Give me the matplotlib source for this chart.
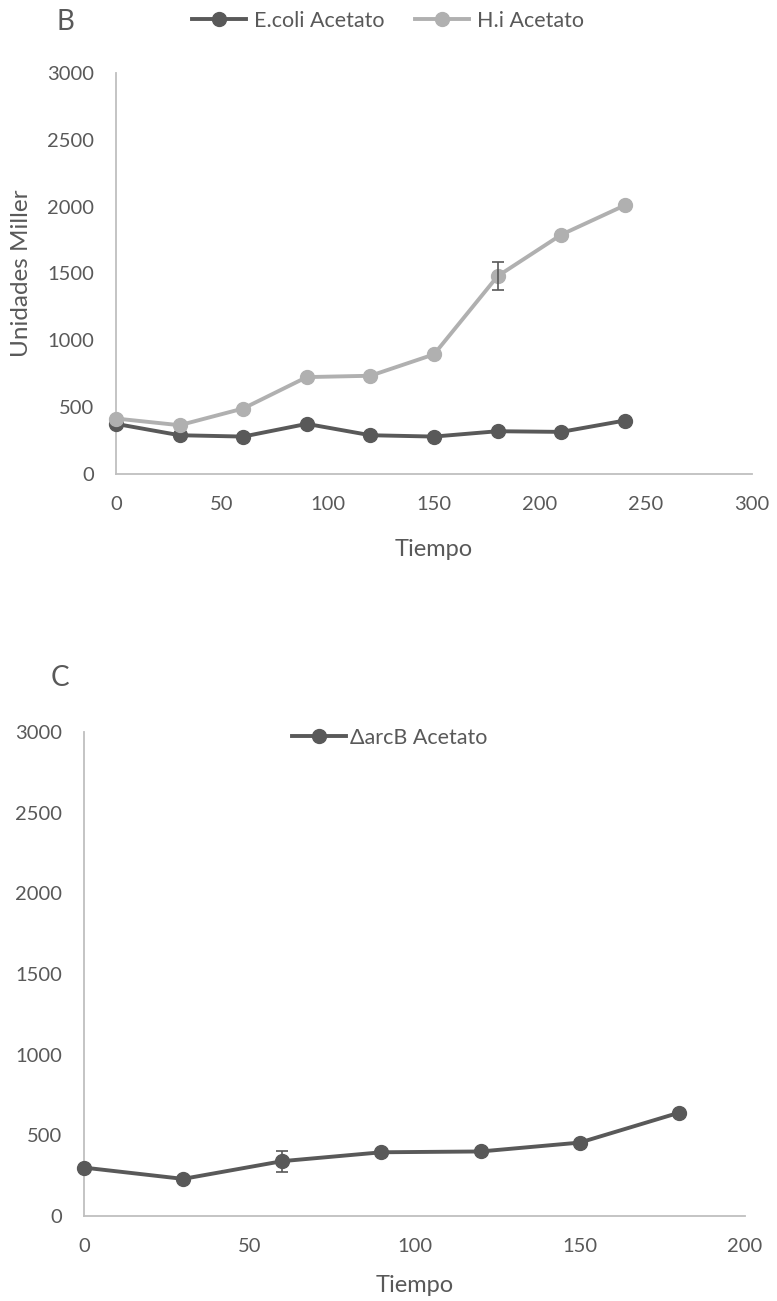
import numpy as np
import matplotlib
matplotlib.use("Agg")
import matplotlib.pyplot as plt

# panel B
tiempo_b = [0, 30, 60, 90, 120, 150, 180, 210, 240]
ecoli_acetato = [375, 290, 280, 375, 290, 280, 320, 315, 400]
ecoli_err = [0, 0, 0, 0, 0, 0, 0, 0, 0]
hi_acetato = [415, 365, 490, 725, 735, 895, 1480, 1790, 2010]
hi_err = [0, 0, 0, 0, 0, 0, 105, 0, 0]

# panel C
tiempo_c = [0, 30, 60, 90, 120, 150, 180]
arcb_acetato = [300, 230, 340, 395, 400, 455, 640]
arcb_err = [0, 0, 65, 0, 0, 0, 0]

DARK = "#595959"
LIGHT = "#b0b0b0"
AXIS = "#bfbfbf"
TEXT = "#595959"

plt.rcParams["font.family"] = ["Lato", "DejaVu Sans"]

W, H = 777, 1301
fig = plt.figure(figsize=(W / 100, H / 100), dpi=100)


def px_axes(left, top, right, bottom):
    return fig.add_axes([left / W, 1 - bottom / H, (right - left) / W, (bottom - top) / H])


def style(ax, xmax):
    ax.set_xlim(0, xmax)
    ax.set_ylim(0, 3000)
    ax.set_yticks(np.arange(0, 3001, 500))
    ax.set_xticks(np.arange(0, xmax + 1, 50))
    for s in ("top", "right"):
        ax.spines[s].set_visible(False)
    for s in ("left", "bottom"):
        ax.spines[s].set_color(AXIS)
        ax.spines[s].set_linewidth(1.3)
    ax.tick_params(length=0, labelsize=14.5, labelcolor=TEXT, pad=16)


def series(ax, x, y, err, color, label):
    x = np.asarray(x)
    y = np.asarray(y)
    err = np.asarray(err)
    m = err > 0
    if m.any():
        ax.errorbar(x[m], y[m], yerr=err[m], fmt="none", ecolor=DARK,
                    elinewidth=1.2, capsize=4.5, capthick=1.2, zorder=4)
    ax.plot(x, y, color=color, lw=2.8, marker="o", ms=10, label=label,
            zorder=3, clip_on=False)


# ---- B ----
axb = px_axes(116, 73, 752, 474)
style(axb, 300)
series(axb, tiempo_b, ecoli_acetato, ecoli_err, DARK, "E.coli Acetato")
series(axb, tiempo_b, hi_acetato, hi_err, LIGHT, "H.i Acetato")
axb.set_xlabel("Tiempo", fontsize=17, color=TEXT, va="center")
axb.xaxis.set_label_coords(0.5, (474 - 550) / 401)
axb.set_ylabel("Unidades Miller", fontsize=17.5, color=TEXT, va="center")
axb.yaxis.set_label_coords((22 - 116) / 636, 0.5)
axb.legend(loc="center", bbox_to_anchor=(388 / W, 1 - 21 / H),
           bbox_transform=fig.transFigure, ncol=2, frameon=False,
           fontsize=15.5, handlelength=2.5, handletextpad=0.4,
           columnspacing=1.4, labelcolor=TEXT)
fig.text(65 / W, 1 - 22 / H, "B", fontsize=20, color=TEXT, ha="center", va="center")

# ---- C ----
axc = px_axes(84, 732, 745, 1216)
style(axc, 200)
series(axc, tiempo_c, arcb_acetato, arcb_err, DARK, "\u0394arcB Acetato")
axc.set_xlabel("Tiempo", fontsize=17, color=TEXT, va="center")
axc.xaxis.set_label_coords(0.5, (1216 - 1286) / 484)
axc.set_ylabel("Unidades Miller", fontsize=17.5, color=TEXT, va="center")
axc.yaxis.set_label_coords((-9 - 84) / 661, 0.5)
axc.legend(loc="center", bbox_to_anchor=(390 / W, 1 - 738 / H),
           bbox_transform=fig.transFigure, frameon=False,
           fontsize=15.5, handlelength=2.5, handletextpad=0.2, labelcolor=TEXT)
fig.text(60 / W, 1 - 678 / H, "C", fontsize=20, color=TEXT, ha="center", va="center")

fig.savefig("out.png", dpi=100)
